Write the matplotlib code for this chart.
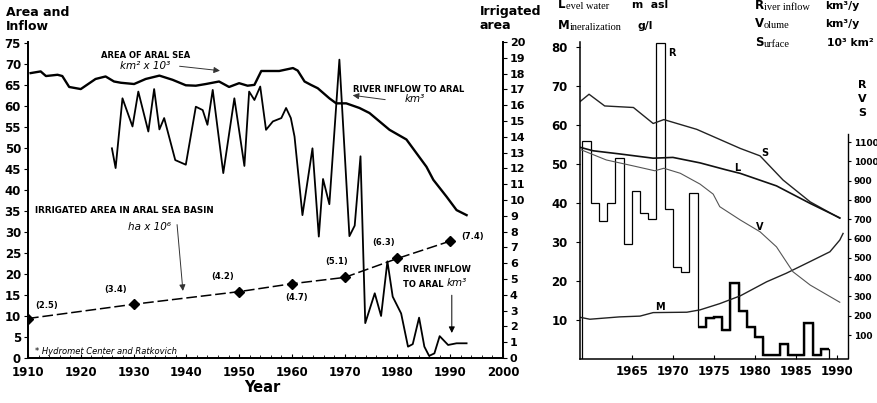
import matplotlib
matplotlib.use("Agg")
import matplotlib.pyplot as plt
import numpy as np

# ---- left panel data ----
area_years = [1910.5, 1912.4, 1913.4, 1915.6, 1916.5, 1917.8, 1920.0, 1922.8, 1924.7,
              1926.3, 1927.6, 1930.1, 1932.3, 1934.9, 1937.4, 1939.9, 1941.8, 1943.7,
              1946.2, 1948.1, 1950.0, 1951.6, 1952.9, 1954.2, 1957.6, 1960.2, 1961.1,
              1962.4, 1963.6, 1964.9, 1967.1, 1968.4, 1970.3, 1972.8, 1974.7, 1976.6,
              1978.5, 1981.7, 1985.5, 1986.8, 1989.3, 1991.2, 1993.1]
area_vals = [67.8, 68.2, 67.1, 67.4, 67.1, 64.5, 64.0, 66.4, 67.0,
             65.8, 65.5, 65.2, 66.4, 67.2, 66.2, 64.9, 64.8, 65.2,
             65.8, 64.5, 65.4, 64.8, 65.0, 68.3, 68.3, 69.0, 68.4,
             65.8, 65.0, 64.2, 61.8, 60.6, 60.6, 59.5, 58.3, 56.3,
             54.3, 52.0, 45.5, 42.4, 38.4, 35.2, 34.0]

inflow_years = [1925.9, 1926.6, 1927.9, 1929.8, 1930.9, 1932.8, 1933.9, 1934.9, 1935.8,
                1937.9, 1939.9, 1941.8, 1943.1, 1944.0, 1945.0, 1947.0, 1949.1, 1951.0,
                1951.9, 1952.9, 1954.0, 1955.1, 1956.4, 1958.0, 1958.9, 1959.8, 1960.5,
                1962.0, 1963.9, 1965.1, 1965.9, 1967.1, 1969.0, 1970.9, 1971.9, 1973.0,
                1973.9, 1975.7, 1976.9, 1978.1, 1979.1, 1980.7, 1982.0, 1982.9, 1984.1,
                1985.1, 1986.0, 1987.0, 1988.0, 1989.6, 1991.2, 1993.1]
inflow_vals = [49.9, 45.2, 61.8, 55.1, 63.4, 53.9, 64.0, 54.4, 57.1,
               47.1, 46.0, 59.8, 59.0, 55.5, 63.8, 44.0, 61.8, 45.7,
               63.4, 61.4, 64.6, 54.3, 56.3, 57.1, 59.5, 57.1, 52.7,
               34.0, 49.9, 28.9, 42.6, 36.6, 71.0, 29.0, 31.5, 48.0,
               8.3, 15.4, 10.0, 23.0, 14.6, 10.6, 2.7, 3.3, 9.6,
               2.7, 0.5, 1.1, 5.2, 3.1, 3.5, 3.5]

irr_years = [1910, 1930, 1950, 1960, 1970, 1980, 1990]
irr_vals = [2.5, 3.4, 4.2, 4.7, 5.1, 6.3, 7.4]
irr_labels = ["(2.5)", "(3.4)", "(4.2)", "(4.7)", "(5.1)", "(6.3)", "(7.4)"]
irr_label_pos = [(1913.6, 12.6), (1926.5, 16.2), (1946.8, 19.3), (1960.8, 14.5),
                 (1968.5, 22.9), (1977.4, 27.4), (1994.3, 28.8)]

# ---- right panel data ----
r_years = list(range(1959, 1990))
r_vals = [56, 40, 35.5, 40, 51.5, 29.5, 43, 37.5, 36, 81, 38.5, 23.5, 22.3, 42.5,
          8.2, 10.4, 10.8, 7.4, 19.6, 12.4, 8.3, 5.7, 1.0, 1.0, 3.8, 1.0, 1.0, 9.3,
          1.0, 2.6]

s_years = [1958.7, 1959.8, 1961.7, 1965.2, 1967.6, 1968.9, 1972.9, 1978.2, 1980.6,
           1983.4, 1986.7, 1990.3]
s_vals = [66.0, 67.9, 64.9, 64.5, 60.4, 61.4, 58.9, 54.0, 52.1, 45.9, 40.3, 36.1]

l_years = [1958.7, 1960.3, 1963.5, 1967.6, 1970.0, 1973.3, 1976.5, 1978.2, 1982.6,
           1986.7, 1990.3]
l_vals = [54.3, 53.4, 52.6, 51.5, 51.7, 50.3, 48.5, 47.6, 44.4, 39.9, 36.2]

v_years = [1958.7, 1961.9, 1965.2, 1967.8, 1968.9, 1970.9, 1973.3, 1974.9, 1975.7,
           1978.2, 1980.6, 1982.6, 1984.6, 1986.7, 1990.3]
v_vals = [1062, 1007, 976, 951, 964, 938, 882, 830, 765, 696, 635, 557, 428, 359, 270]

m_years = [1958.7, 1959.9, 1963.5, 1966.0, 1967.6, 1971.7, 1973.3, 1975.7, 1978.2,
           1981.4, 1983.8, 1986.7, 1989.1, 1990.3, 1990.7]
m_vals = [10.7, 10.2, 10.8, 11.0, 11.9, 12.0, 12.6, 14.2, 16.2, 19.8, 22.0, 25.0,
          27.5, 30.5, 32.2]

W, H = 877, 403


def fx(px):
    return px / W


def fy(py):
    return 1 - py / H


fig = plt.figure(figsize=(8.77, 4.03), dpi=100)
fig.patch.set_facecolor("white")

tickfont = dict(fontsize=8.5, fontweight="bold")

# ================= left panel =================
ax1 = fig.add_axes([fx(28), fy(358), fx(503) - fx(28), fy(42) - fy(358)])
ax1r = ax1.twinx()
ax1.set_xlim(1910, 2000)
ax1.set_ylim(0, 75.2)
ax1r.set_ylim(0, 20.0)
for a in (ax1, ax1r):
    a.spines["top"].set_visible(False)
    for s in ("left", "right", "bottom"):
        a.spines[s].set_linewidth(1.3)
ax1.set_yticks(range(0, 80, 5))
ax1.set_yticklabels([str(v) for v in range(0, 80, 5)], **tickfont)
ax1.set_xticks(range(1910, 2001, 10))
ax1.set_xticklabels([str(v) for v in range(1910, 2001, 10)], **tickfont)
ax1.set_xticks(np.arange(1910, 2001, 2), minor=True)
ax1.tick_params(axis="x", which="both", direction="in", length=3, pad=6)
ax1.tick_params(axis="x", which="minor", length=2)
ax1.tick_params(axis="y", length=3, pad=2)
ax1r.set_yticks(range(0, 21))
ax1r.set_yticklabels([str(v) for v in range(0, 21)], fontsize=8, fontweight="bold")
ax1r.tick_params(axis="y", length=3, pad=2)

ax1.plot(area_years, area_vals, color="black", lw=1.7)
ax1.plot(inflow_years, inflow_vals, color="black", lw=1.3)
ax1r.plot(irr_years, irr_vals, color="black", lw=1.1, dashes=(7, 2.5),
          marker="D", ms=5.5)
for lab, (xx, yy) in zip(irr_labels, irr_label_pos):
    ax1.text(xx, yy, lab, fontsize=6, fontweight="bold", ha="center", va="center")

small = dict(fontsize=6, fontweight="bold")
ax1.text(1932.2, 72.1, "AREA OF ARAL SEA", ha="center", va="center", **small)
ax1.text(1932.2, 69.6, "km² x 10³", ha="center", va="center", fontsize=7.5,
         style="italic")
ax1.annotate("", xy=(1946.9, 68.3), xytext=(1938.2, 69.5),
             arrowprops=dict(arrowstyle="-|>", color="#333333", lw=0.7, mutation_scale=9))
ax1.text(1971.6, 64.0, "RIVER INFLOW TO ARAL", ha="left", va="center", **small)
ax1.text(1981.4, 61.6, "km³", ha="left", va="center", fontsize=7.5, style="italic")
ax1.annotate("", xy=(1971.0, 62.6), xytext=(1978.2, 61.4),
             arrowprops=dict(arrowstyle="-|>", color="#333333", lw=0.7, mutation_scale=9))
ax1.text(1911.3, 35.2, "IRRIGATED AREA IN ARAL SEA BASIN", ha="left", va="center",
         fontsize=6.3, fontweight="bold")
ax1.text(1928.9, 31.2, "ha x 10⁶", ha="left", va="center", fontsize=7.5, style="italic")
ax1.annotate("", xy=(1939.4, 15.3), xytext=(1938.2, 32.4),
             arrowprops=dict(arrowstyle="-|>", color="#333333", lw=0.7, mutation_scale=9))
ax1.text(1981.0, 21.0, "RIVER INFLOW", ha="left", va="center", **small)
ax1.text(1981.0, 17.4, "TO ARAL", ha="left", va="center", **small)
ax1.text(1989.4, 17.8, "km³", ha="left", va="center", fontsize=7.5, style="italic")
ax1.annotate("", xy=(1990.3, 5.3), xytext=(1990.3, 15.6),
             arrowprops=dict(arrowstyle="-|>", color="black", lw=0.7, mutation_scale=9))
ax1.text(1911.3, 1.5, "* Hydromet Center and Ratkovich", ha="left", va="center",
         fontsize=6, style="italic")

fig.text(fx(6), fy(6), "Area and\nInflow", ha="left", va="top", fontsize=9,
         fontweight="bold", linespacing=1.1)
fig.text(fx(480), fy(5), "Irrigated\narea", ha="left", va="top", fontsize=9,
         fontweight="bold", linespacing=1.1)
fig.text(fx(262), fy(387), "Year", ha="center", va="center", fontsize=10.5,
         fontweight="bold")

# ================= right panel =================
ax2 = fig.add_axes([fx(580), fy(359), fx(848) - fx(580), fy(42) - fy(359)])
ax2r = ax2.twinx()
ax2.set_xlim(1958.7, 1991.3)
ax2.set_ylim(0, 81.3)
ax2r.set_ylim(-24, 1618)
ax2.spines["top"].set_visible(False)
ax2.spines["right"].set_visible(False)
for s in ("top", "left", "bottom"):
    ax2r.spines[s].set_visible(False)
ax2r.spines["right"].set_bounds(-20, 1140)
ax2.spines["left"].set_linewidth(1.1)
ax2.spines["bottom"].set_linewidth(1.1)
ax2r.spines["right"].set_linewidth(1.0)

ax2.set_xticks(range(1965, 1991, 5))
ax2.set_xticklabels([str(v) for v in range(1965, 1991, 5)], **tickfont)
ax2.tick_params(axis="x", direction="in", length=3, pad=4)
ax2.set_yticks(range(10, 81, 10))
ax2.set_yticklabels([str(v) for v in range(10, 81, 10)], **tickfont)
ax2.tick_params(axis="y", length=3, pad=6)
ax2r.set_yticks(range(100, 1101, 100))
ax2r.set_yticklabels([str(v) for v in range(100, 1101, 100)], fontsize=6.5,
                     fontweight="bold")
ax2r.tick_params(axis="y", length=2, pad=2)

ax2.stairs(r_vals, r_years, baseline=0, fill=False, color="black", lw=0.9)
ax2.stairs(r_vals[14:], r_years[14:], baseline=None, color="black", lw=1.7)
ax2.plot(s_years, s_vals, color="#222222", lw=1.0)
ax2.plot(l_years, l_vals, color="#111111", lw=1.2)
ax2.plot(m_years, m_vals, color="#222222", lw=1.0)
ax2r.plot(v_years, v_vals, color="#555555", lw=0.8)

lab = dict(fontsize=7, fontweight="bold", ha="center", va="center")
ax2.text(1969.9, 78.6, "R", **lab)
ax2.text(1981.2, 52.9, "S", **lab)
ax2.text(1977.8, 49.0, "L", **lab)
ax2.text(1980.6, 33.9, "V", **lab)
ax2.text(1968.4, 13.4, "M", **lab)

for i, ch in enumerate(["R", "V", "S"]):
    fig.text(fx(862), fy(85 + 14 * i), ch, ha="center", va="center", fontsize=8,
             fontweight="bold")

# legend block at the top of the right panel
legend_rows = [
    (558, 8, "L", "evel water", 632, "m  asl"),
    (558, 29, "M", "ineralization", 637, "g/l"),
    (755, 9, "R", "iver inflow", 825, "km³/y"),
    (755, 27, "V", "olume", 825, "km³/y"),
    (755, 46, "S", "urface", 827, "10³ km²"),
]
for x0, yb, cap, rest, xu, unit in legend_rows:
    t = fig.text(fx(x0), fy(yb), cap, ha="left", va="baseline", fontsize=8.5,
                 fontweight="bold")
    ax2.annotate(rest, xy=(1, 0), xycoords=t, ha="left", va="bottom", fontsize=7.5,
                 family="Liberation Serif", annotation_clip=False)
    fig.text(fx(xu), fy(yb), unit, ha="left", va="baseline", fontsize=7.8,
             fontweight="bold")

fig.savefig("out.png", dpi=100)
